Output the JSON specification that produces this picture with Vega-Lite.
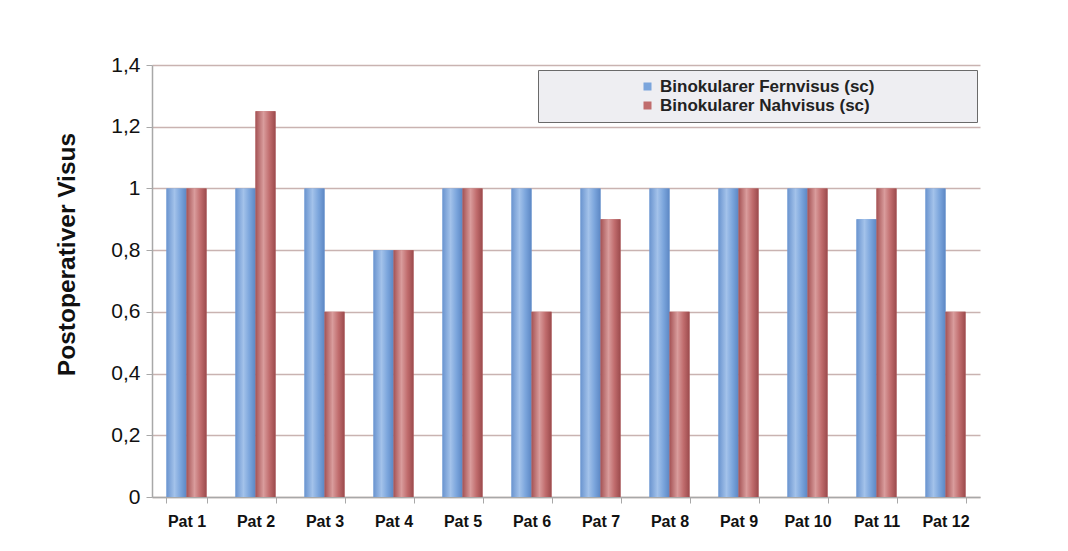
{
  "$schema": "https://vega.github.io/schema/vega-lite/v6.json",
  "width": 828,
  "height": 432,
  "autosize": {"type": "none"},
  "padding": {"left": 152, "top": 65, "right": 88, "bottom": 54},
  "background": "white",
  "data": {
    "values": [
      {"patient": "Pat 1", "serie": "Binokularer Fernvisus (sc)", "visus": 1.0},
      {"patient": "Pat 1", "serie": "Binokularer Nahvisus (sc)", "visus": 1.0},
      {"patient": "Pat 2", "serie": "Binokularer Fernvisus (sc)", "visus": 1.0},
      {"patient": "Pat 2", "serie": "Binokularer Nahvisus (sc)", "visus": 1.25},
      {"patient": "Pat 3", "serie": "Binokularer Fernvisus (sc)", "visus": 1.0},
      {"patient": "Pat 3", "serie": "Binokularer Nahvisus (sc)", "visus": 0.6},
      {"patient": "Pat 4", "serie": "Binokularer Fernvisus (sc)", "visus": 0.8},
      {"patient": "Pat 4", "serie": "Binokularer Nahvisus (sc)", "visus": 0.8},
      {"patient": "Pat 5", "serie": "Binokularer Fernvisus (sc)", "visus": 1.0},
      {"patient": "Pat 5", "serie": "Binokularer Nahvisus (sc)", "visus": 1.0},
      {"patient": "Pat 6", "serie": "Binokularer Fernvisus (sc)", "visus": 1.0},
      {"patient": "Pat 6", "serie": "Binokularer Nahvisus (sc)", "visus": 0.6},
      {"patient": "Pat 7", "serie": "Binokularer Fernvisus (sc)", "visus": 1.0},
      {"patient": "Pat 7", "serie": "Binokularer Nahvisus (sc)", "visus": 0.9},
      {"patient": "Pat 8", "serie": "Binokularer Fernvisus (sc)", "visus": 1.0},
      {"patient": "Pat 8", "serie": "Binokularer Nahvisus (sc)", "visus": 0.6},
      {"patient": "Pat 9", "serie": "Binokularer Fernvisus (sc)", "visus": 1.0},
      {"patient": "Pat 9", "serie": "Binokularer Nahvisus (sc)", "visus": 1.0},
      {"patient": "Pat 10", "serie": "Binokularer Fernvisus (sc)", "visus": 1.0},
      {"patient": "Pat 10", "serie": "Binokularer Nahvisus (sc)", "visus": 1.0},
      {"patient": "Pat 11", "serie": "Binokularer Fernvisus (sc)", "visus": 0.9},
      {"patient": "Pat 11", "serie": "Binokularer Nahvisus (sc)", "visus": 1.0},
      {"patient": "Pat 12", "serie": "Binokularer Fernvisus (sc)", "visus": 1.0},
      {"patient": "Pat 12", "serie": "Binokularer Nahvisus (sc)", "visus": 0.6}
    ]
  },
  "encoding": {
    "x": {
      "field": "patient",
      "type": "nominal",
      "sort": null,
      "scale": {"paddingInner": 0.42, "paddingOuter": 0.21},
      "axis": {
        "title": null,
        "labelAngle": 0,
        "labelFont": "Liberation Sans",
        "labelFontWeight": "bold",
        "labelFontSize": 16,
        "labelColor": "#111111",
        "labelPadding": 10,
        "tickBand": "extent",
        "tickSize": 6,
        "tickColor": "#a8a8a8",
        "domainColor": "#a8a8a8",
        "domainWidth": 1.5,
        "grid": false
      }
    },
    "xOffset": {"field": "serie", "sort": null},
    "y": {
      "field": "visus",
      "type": "quantitative",
      "title": "Postoperativer Visus",
      "scale": {"domain": [0, 1.4], "nice": false},
      "axis": {
        "values": [0, 0.2, 0.4, 0.6, 0.8, 1, 1.2, 1.4],
        "labelExpr": "replace(format(datum.value, '.1~f'), '.', ',')",
        "labelFont": "Liberation Sans",
        "labelFontSize": 21,
        "labelColor": "#111111",
        "labelPadding": 6,
        "tickSize": 6,
        "tickColor": "#a8a8a8",
        "domainColor": "#a8a8a8",
        "domainWidth": 1.5,
        "grid": true,
        "gridColor": "#c9b3b1",
        "gridWidth": 1.5,
        "titleFont": "Liberation Sans",
        "titleFontWeight": "bold",
        "titleFontSize": 24.5,
        "titleColor": "#111111",
        "titlePadding": 31,
        "titleY": 189
      }
    }
  },
  "layer": [
    {
      "mark": {"type": "bar"},
      "encoding": {
        "color": {
          "field": "serie",
          "type": "nominal",
          "sort": null,
          "scale": {
            "domain": ["Binokularer Fernvisus (sc)", "Binokularer Nahvisus (sc)"],
            "range": ["#7ba5dc", "#c06c6d"]
          },
          "legend": {
            "title": ".",
            "titleOrient": "right",
            "titleColor": "#eeeef2",
            "titleFontSize": 17,
            "titlePadding": 90,
            "orient": "none",
            "legendX": 386,
            "legendY": 5,
            "labelFont": "Liberation Sans",
            "labelFontWeight": "bold",
            "labelFontSize": 17,
            "labelColor": "#222222",
            "labelLimit": 500,
            "symbolType": "square",
            "symbolSize": 64,
            "symbolStrokeWidth": 0,
            "symbolOffset": 93,
            "rowPadding": 1,
            "padding": 8,
            "fillColor": "#eeeef2",
            "strokeColor": "#6a6a6a"
          }
        }
      }
    },
    {
      "transform": [{"filter": "datum.serie == 'Binokularer Fernvisus (sc)'"}],
      "mark": {
        "type": "bar",
        "fill": {"gradient": "linear", "x1": 0, "y1": 0, "x2": 1, "y2": 0, "stops": [
          {"offset": 0, "color": "#6a94cf"},
          {"offset": 0.4, "color": "#a3c2ea"},
          {"offset": 0.7, "color": "#7ba5dc"},
          {"offset": 1, "color": "#5c87c4"}]}
      }
    },
    {
      "transform": [{"filter": "datum.serie == 'Binokularer Nahvisus (sc)'"}],
      "mark": {
        "type": "bar",
        "fill": {"gradient": "linear", "x1": 0, "y1": 0, "x2": 1, "y2": 0, "stops": [
          {"offset": 0, "color": "#a45254"},
          {"offset": 0.4, "color": "#d99c9c"},
          {"offset": 0.7, "color": "#c06c6d"},
          {"offset": 1, "color": "#9b4a4c"}]}
      }
    }
  ],
  "config": {
    "view": {"stroke": null}
  }
}
